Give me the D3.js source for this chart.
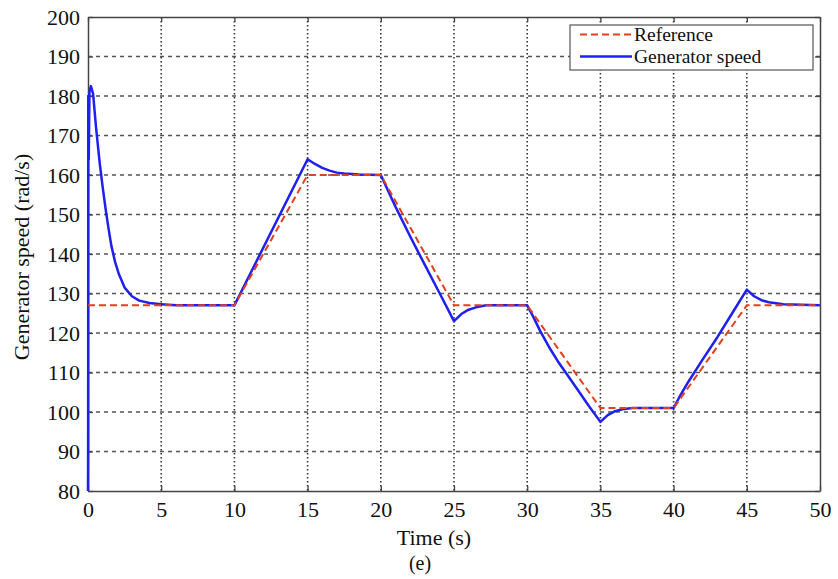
<!DOCTYPE html>
<html>
<head>
  <meta charset="utf-8">
  <title>Generator speed</title>
  <script src="https://cdnjs.cloudflare.com/ajax/libs/d3/7.8.5/d3.min.js"></script>
  <style>
    body { margin: 0; background: #fff; }
    text { font-family: "Liberation Serif", "Times New Roman", serif; fill: #111; }
  </style>
</head>
<body>
<div id="vis"></div>
<script>
var W = 838, H = 579;
var padL = 88, padR = 820, padT = 17, padB = 491;

// reference speed (rad/s)
var refTime  = [0, 10, 15, 20, 25, 30, 35, 40, 45, 50];
var refSpeed = [127, 127, 160, 160, 127, 127, 101, 101, 127, 127];

// measured generator speed (rad/s)
var genTime = [0, 0.01, 0.02, 0.05, 0.1, 0.2, 0.35, 0.55, 0.8, 1.0, 1.2, 1.4, 1.6, 1.85, 2.1, 2.5, 3.0, 3.5, 4.2, 5.0, 6,
  10, 15, 15.5, 16, 16.5, 17, 17.5, 18.5, 20,
  21, 22, 23, 24, 25, 25.5, 26, 26.5, 27.2, 30,
  30.4, 30.9, 31.5, 32.1, 32.7, 33.4, 34.2, 35, 35.5, 36, 36.5, 37.2, 40,
  40.4, 41, 42, 43, 44, 45, 45.5, 46, 46.5, 47.5, 50];
var genSpeed = [80, 91, 180, 164, 181, 182.5, 180.5, 172, 163, 157, 151.5, 146.5, 142, 138, 135, 131.5, 129.3, 128.2, 127.6, 127.3, 127,
  127, 164, 162.8, 161.8, 161.1, 160.6, 160.4, 160.1, 160,
  152, 144.5, 137.3, 130.2, 123, 124.8, 125.9, 126.5, 127, 127,
  124.2, 120.4, 116.4, 112.8, 109.6, 105.9, 101.6, 97.5, 99.2, 100.2, 100.7, 101, 101,
  103.8, 107.6, 113.4, 119, 125, 131, 129.3, 128.3, 127.8, 127.3, 127];

var xTicks = [0, 5, 10, 15, 20, 25, 30, 35, 40, 45, 50];
var yTicks = [80, 90, 100, 110, 120, 130, 140, 150, 160, 170, 180, 190, 200];
var legendLabels = ["Reference", "Generator speed"];

var svg = d3.select("#vis").append("svg")
  .attr("width", W).attr("height", H);

var x = d3.scaleLinear().domain([0, 50]).range([padL, padR]);
var y = d3.scaleLinear().domain([80, 200]).range([padB, padT]);

// grid
svg.append("g").selectAll("line").data(xTicks.slice(1, -1)).enter().append("line")
  .attr("x1", function(d) { return x(d); }).attr("x2", function(d) { return x(d); })
  .attr("y1", padT).attr("y2", padB)
  .attr("stroke", "#333").attr("stroke-width", 1.6).attr("stroke-dasharray", "1.5,2.5");
svg.append("g").selectAll("line").data(yTicks.slice(1, -1)).enter().append("line")
  .attr("x1", padL).attr("x2", padR)
  .attr("y1", function(d) { return y(d); }).attr("y2", function(d) { return y(d); })
  .attr("stroke", "#555").attr("stroke-width", 1.4).attr("stroke-dasharray", "4,4");

// axes
function styleAxis(g) {
  g.selectAll("path").attr("stroke", "#444").attr("stroke-width", 1.5);
  g.selectAll("line").attr("stroke", "#444").attr("stroke-width", 1.3);
  g.selectAll("text").attr("font-size", 22).attr("font-family", "Liberation Serif, Times New Roman, serif").attr("fill", "#111");
}
svg.append("g").attr("transform", "translate(0," + padB + ")")
  .call(d3.axisBottom(x).tickValues(xTicks).tickSizeInner(-5).tickSizeOuter(0).tickPadding(10))
  .call(styleAxis);
svg.append("g").attr("transform", "translate(" + padL + ",0)")
  .call(d3.axisLeft(y).tickValues(yTicks).tickSizeInner(-5).tickSizeOuter(0).tickPadding(8))
  .call(styleAxis);
svg.append("g").attr("transform", "translate(0," + padT + ")")
  .call(d3.axisTop(x).tickValues(xTicks).tickSizeInner(-5).tickSizeOuter(0).tickFormat(""))
  .call(styleAxis);
svg.append("g").attr("transform", "translate(" + padR + ",0)")
  .call(d3.axisRight(y).tickValues(yTicks).tickSizeInner(-5).tickSizeOuter(0).tickFormat(""))
  .call(styleAxis);

// lines
var line = d3.line()
  .x(function(d) { return x(d[0]); })
  .y(function(d) { return y(d[1]); });

var refData = d3.zip(refTime, refSpeed);
var genData = d3.zip(genTime, genSpeed);

svg.append("path").datum(genData)
  .attr("d", line).attr("fill", "none")
  .attr("stroke", "#1f1ff0").attr("stroke-width", 2.5).attr("stroke-linejoin", "round");
svg.append("path").datum(refData)
  .attr("d", line).attr("fill", "none")
  .attr("stroke", "#e2401c").attr("stroke-width", 2).attr("stroke-dasharray", "7,4");

// axis titles
svg.append("text").attr("x", 434).attr("y", 545).attr("text-anchor", "middle")
  .attr("font-size", 22).text("Time (s)");
svg.append("text").attr("x", 420).attr("y", 570).attr("text-anchor", "middle")
  .attr("font-size", 20).text("(e)");
svg.append("text").attr("transform", "translate(29,257) rotate(-90)")
  .attr("text-anchor", "middle").attr("font-size", 22).text("Generator speed (rad/s)");

// legend
var lg = svg.append("g");
lg.append("rect").attr("x", 570).attr("y", 25).attr("width", 243).attr("height", 45)
  .attr("fill", "#fff").attr("stroke", "#555").attr("stroke-width", 1.2);
lg.append("line").attr("x1", 580).attr("x2", 632).attr("y1", 34.5).attr("y2", 34.5)
  .attr("stroke", "#e2401c").attr("stroke-width", 2).attr("stroke-dasharray", "7,4");
lg.append("line").attr("x1", 580).attr("x2", 632).attr("y1", 56.5).attr("y2", 56.5)
  .attr("stroke", "#1f1ff0").attr("stroke-width", 2.5);
lg.selectAll("text.leg").data(legendLabels).enter().append("text")
  .attr("class", "leg")
  .attr("x", 634)
  .attr("y", function(d, i) { return 41 + i * 22; })
  .attr("font-size", 19.5)
  .text(function(d) { return d; });
</script>
</body>
</html>
